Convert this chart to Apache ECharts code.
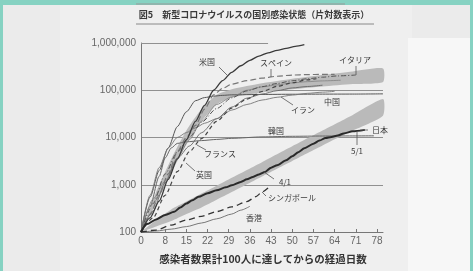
<!DOCTYPE html>
<html><head><meta charset="utf-8">
<script src="https://cdn.jsdelivr.net/npm/echarts@6/dist/echarts.min.js"></script>
<style>
html,body{margin:0;padding:0;width:473px;height:271px;overflow:hidden;background:#ebebeb;}
#wrap{position:relative;width:473px;height:271px;}
.bg{position:absolute;}
#chart{position:absolute;left:0;top:0;width:473px;height:271px;}
</style></head>
<body><div id="wrap">
<div class="bg" style="left:60px;top:0;width:352px;height:271px;background:#efefef"></div>
<div class="bg" style="left:408px;top:38px;width:62px;height:233px;background:#f7f7f7"></div>
<div class="bg" style="left:0;top:0;width:473px;height:5px;background:#86d2c2"></div>
<div class="bg" style="left:0;top:0;width:3px;height:271px;background:#86d2c2"></div>
<div class="bg" style="left:470px;top:0;width:3px;height:271px;background:#86d2c2"></div>
<div id="chart"></div></div>
<script>
// x tick labels (days since 100th case)
const xTicks = [0, 8, 15, 22, 29, 36, 43, 50, 57, 64, 71, 78];
// [day, cumulative cases]
const usData = [[0,100],[3,200],[6,450],[9,1300],[12,3500],[15,9000],[18,22000],[21,48000],[24,100000],[27,160000],[30,240000],[33,330000],[36,430000],[39,530000],[42,620000],[45,700000],[48,770000],[51,850000],[54,920000]];
const spainData = [[0,100],[3,230],[6,600],[9,1700],[12,5000],[15,10000],[18,18000],[21,40000],[24,80000],[27,110000],[30,134000],[35,160000],[40,180000],[45,198000],[50,210000],[55,215000],[60,216000],[64,216000]];
const italyData = [[0,100],[4,400],[8,1700],[12,5000],[16,10000],[20,21000],[25,41000],[30,69000],[35,97000],[40,119000],[45,139000],[50,159000],[55,175000],[60,189000],[65,201000],[71,210000]];
const iranData = [[0,100],[3,600],[6,2300],[9,6000],[12,10000],[15,12700],[18,16000],[21,20000],[25,25000],[30,38000],[35,50000],[40,62000],[45,71000],[50,79000],[55,86000],[60,91000],[64,95000]];
const franceData = [[0,100],[4,280],[8,1100],[12,3600],[16,6600],[20,12600],[25,25000],[30,44000],[35,68000],[40,83000],[45,98000],[50,112000],[55,120000],[60,128000]];
const ukData = [[0,100],[4,200],[8,600],[12,1900],[16,5000],[20,9500],[25,22000],[30,42000],[35,65000],[40,94000],[45,121000],[50,144000],[55,166000],[58,175000]];
const germanyData = [[0,100],[4,500],[8,1200],[12,3700],[16,9000],[20,22000],[25,50000],[30,72000],[35,100000],[40,118000],[45,130000],[50,143000],[55,152000],[60,158000],[66,163000]];
const chinaData = [[0,100],[3,550],[6,2000],[9,6000],[12,17000],[15,35000],[18,60000],[21,70000],[24,75000],[27,78000],[30,80000],[40,81500],[50,82300],[60,82800],[70,83000],[80,83900]];
const koreaData = [[0,100],[3,350],[6,1500],[8,3700],[10,6000],[12,7500],[15,8100],[20,8600],[25,9100],[30,9600],[40,10300],[50,10600],[60,10750],[70,10800],[77,10850]];
const japanData = [[0,100],[2,147],[5,185],[8,230],[11,268],[13,330],[15,400],[17,470],[19,555],[22,660],[25,765],[28,880],[30,975],[33,1150],[35,1300],[37,1460],[39,1650],[41,1860],[43,2300],[45,2580],[48,3300],[50,4000],[52,4900],[54,5900],[57,7400],[59,8600],[61,9800],[63,10300],[65,11000],[67,12200],[70,13500],[74,14500]];
const singaporeData = [[0,100],[5,110],[10,140],[15,180],[20,215],[25,270],[30,340],[35,440],[38,560],[40,700],[42,850]];
const hongkongData = [[0,100],[5,105],[10,115],[15,130],[20,155],[25,190],[30,240],[33,290],[36,350]];
// shaded bands: day, lower, upper
const bandDays = [0, 5, 10, 15, 20, 25, 30, 40, 50, 60, 70, 80];
const upperBandLow  = [100, 400, 1800, 7000, 22000, 50000, 70000, 90000, 105000, 120000, 135000, 150000];
const upperBandHigh = [100, 700, 3500, 14000, 40000, 80000, 105000, 140000, 175000, 210000, 250000, 290000];
const lowerBandLow  = [100, 130, 170, 240, 330, 480, 700, 1500, 3200, 6800, 14000, 29000];
const lowerBandHigh = [100, 180, 300, 440, 650, 950, 1400, 3000, 6500, 14000, 30000, 65000];

const bands = [[upperBandLow, upperBandHigh], [lowerBandLow, lowerBandHigh]];

const chart = echarts.init(document.getElementById('chart'), null, {renderer:'canvas'});
const line = (data, color, width, type, z) => ({type:'line', data, symbol:'none', smooth:0.25, smoothMonotone:'x', z:z||3,
  lineStyle:{color, width, type: type||'solid'}});

const font = '"Noto Sans CJK JP"';
const labels = [
  ['米国',207,62],['スペイン',276,63],['イタリア',355,60],['イラン',303,110],['中国',332,102],
  ['韓国',276,131],['日本',380,130],['5/1',357,151],['4/1',285,182],['フランス',220,154],
  ['英国',204,175],['シンガポール',292,198],['香港',254,218]
];
const leaders = [
  [219,67,228,76],[271,69,271,77],[356,66,356,75],[293,105,281,97],[360,130,368,130],
  [357,145,357,131],[274,179,264,172],[206,150,197,145],[195,171,186,163],[266,196,262,192]
];
const graphics = [];
labels.forEach(l=>graphics.push({type:'text', x:l[1], y:l[2], z:10,
  style:{text:l[0], font:'8px '+font, fill:'#3a3a3a', align:'center', verticalAlign:'middle'}}));
leaders.forEach(s=>graphics.push({type:'line', z:10, shape:{x1:s[0],y1:s[1],x2:s[2],y2:s[3]},
  style:{stroke:'#555', lineWidth:0.8}}));
graphics.push({type:'text', x:254, y:15, style:{text:'図5　新型コロナウイルスの国別感染状態（片対数表示）',
  font:'bold 9px '+font, fill:'#3a3a3a', align:'center', verticalAlign:'middle'}});
graphics.push({type:'line', shape:{x1:136,y1:4,x2:345,y2:4}, style:{stroke:'#999', lineWidth:1}});
graphics.push({type:'line', shape:{x1:136,y1:24,x2:374,y2:24}, style:{stroke:'#888', lineWidth:1}});
graphics.push({type:'text', x:263, y:259, style:{text:'感染者数累計100人に達してからの経過日数',
  font:'bold 10.5px '+font, fill:'#333', align:'center', verticalAlign:'middle'}});

chart.setOption({
  animation:false,
  backgroundColor:'transparent',
  grid:{left:141, top:43, width:242, height:189, containLabel:false},
  xAxis:{type:'value', min:0, max:80,
    axisLine:{lineStyle:{color:'#777', width:1}},
    axisTick:{show:true, inside:true, length:3, customValues:xTicks, lineStyle:{color:'#777'}},
    axisLabel:{customValues:xTicks, color:'#666', fontSize:10, fontFamily:'Liberation Sans', margin:4},
    splitLine:{show:false}},
  yAxis:{type:'log', logBase:10, min:100, max:1000000,
    axisLine:{show:true, lineStyle:{color:'#777', width:1}},
    axisTick:{show:false},
    axisLabel:{color:'#666', fontSize:10, fontFamily:'Liberation Sans', margin:5,
      formatter:v=>Number(v).toLocaleString('en-US')},
    splitLine:{show:true, showMaxLine:false, showMinLine:false, lineStyle:{color:'#909090', width:1}}},
  graphic:graphics,
  series:[
    {type:'custom', silent:true, z:1, data:[[0],[1]], encode:{x:-1, y:-1},
      renderItem:(params, api)=>{
        const b = bands[params.dataIndex];
        const pts = [];
        bandDays.forEach((d,i)=>pts.push(api.coord([d, b[0][i]])));
        for (let i=bandDays.length-1;i>=0;i--) pts.push(api.coord([bandDays[i], b[1][i]]));
        return {type:'polygon', shape:{points:pts, smooth:0.2}, style:{fill:'#bababa'}};
      }},
    {type:'line', data:[], markLine:{silent:true, symbol:'none', label:{show:false},
      lineStyle:{color:'#909090', width:1, type:'solid'},
      data:[[{coord:[0,1000000]},{coord:[42,1000000]}]]}},
    line(hongkongData,'#777',1),
    line(singaporeData,'#333',1.3,[6,4]),
    line(koreaData,'#666',1),
    line(chinaData,'#555',1),
    line(germanyData,'#888',0.9),
    line(franceData,'#666',0.9),
    line(iranData,'#777',0.9),
    line(ukData,'#444',1.2,[4,3]),
    line(italyData,'#555',1,[5,2,1,2]),
    line(spainData,'#777',1.2,[6,3]),
    line(usData,'#3a3a3a',1.3),
    line(japanData,'#2a2a2a',2,'solid',4)
  ]
});
</script></body></html>
